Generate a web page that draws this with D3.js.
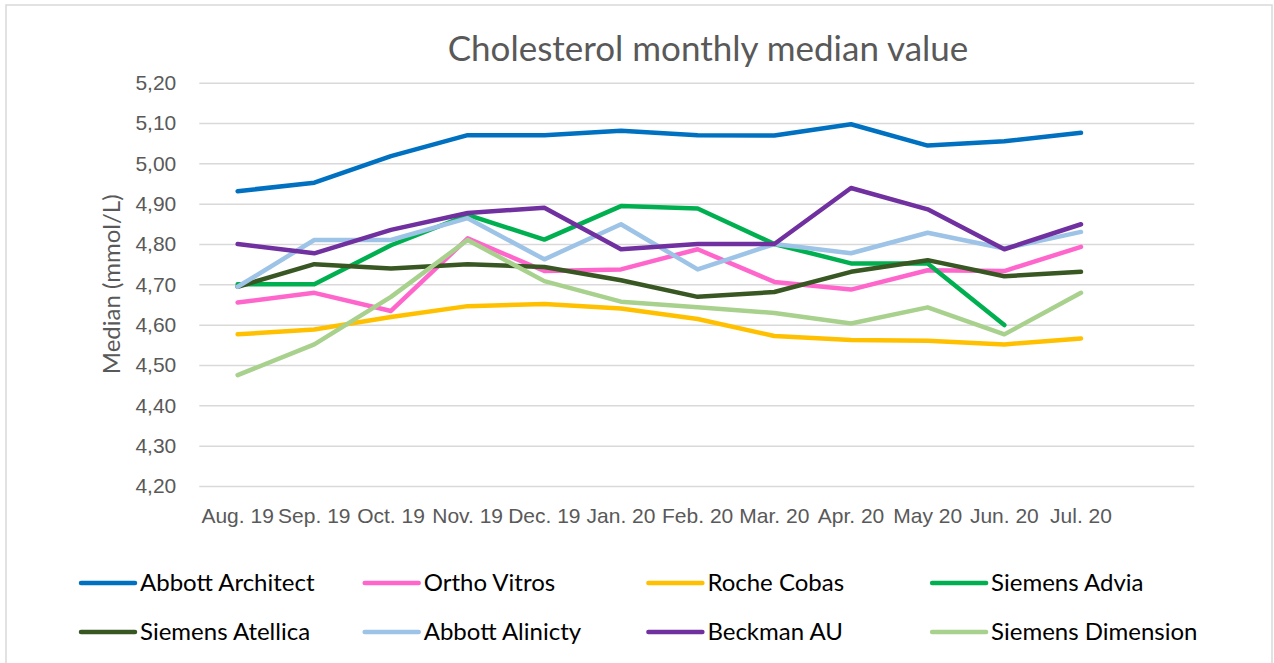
<!DOCTYPE html>
<html>
<head>
<meta charset="utf-8">
<script src="https://cdn.jsdelivr.net/npm/d3@7"></script>
<style>
  body { margin: 0; background: #fff; }
  svg { display: block; font-family: Lato, "Open Sans", sans-serif; }
  .grid line { stroke: #d9d9d9; stroke-width: 1.5; }
  .grid .domain { display: none; }
  .axis text { fill: #595959; }
  .axis .domain, .axis line { display: none; }
</style>
</head>
<body>
<div id="chart"></div>
<script>
var months = ["Aug. 19", "Sep. 19", "Oct. 19", "Nov. 19", "Dec. 19", "Jan. 20", "Feb. 20", "Mar. 20", "Apr. 20", "May 20", "Jun. 20", "Jul. 20"]
var yTicks = [4.2, 4.3, 4.4, 4.5, 4.6, 4.7, 4.8, 4.9, 5.0, 5.1, 5.2]

var abbottArchitect = [4.931, 4.952, 5.018, 5.070, 5.070, 5.081, 5.070, 5.069, 5.097, 5.044, 5.055, 5.076]
var orthoVitros     = [4.655, 4.679, 4.634, 4.814, 4.733, 4.737, 4.787, 4.706, 4.687, 4.735, 4.733, 4.793]
var rocheCobas      = [4.576, 4.588, 4.619, 4.646, 4.651, 4.640, 4.614, 4.572, 4.562, 4.560, 4.551, 4.566]
var siemensAdvia    = [4.700, 4.700, 4.797, 4.872, 4.811, 4.894, 4.888, 4.800, 4.752, 4.752, 4.599, null]
var siemensAtellica = [4.694, 4.750, 4.739, 4.750, 4.743, 4.710, 4.669, 4.681, 4.731, 4.760, 4.720, 4.731]
var abbottAlinicty  = [4.694, 4.810, 4.810, 4.864, 4.762, 4.849, 4.737, 4.800, 4.777, 4.828, 4.789, 4.830]
var beckmanAU       = [4.800, 4.777, 4.835, 4.877, 4.890, 4.787, 4.800, 4.800, 4.939, 4.886, 4.787, 4.849]
var siemensDimension= [4.475, 4.551, 4.669, 4.810, 4.708, 4.657, 4.643, 4.629, 4.603, 4.643, 4.576, 4.679]

var seriesNames  = ["Abbott Architect", "Ortho Vitros", "Roche Cobas", "Siemens Advia", "Siemens Atellica", "Abbott Alinicty", "Beckman AU", "Siemens Dimension"]
var seriesValues = [abbottArchitect, orthoVitros, rocheCobas, siemensAdvia, siemensAtellica, abbottAlinicty, beckmanAU, siemensDimension]
var seriesColors = ["#0070C0", "#FF66CC", "#FFC000", "#00B050", "#385723", "#9DC3E6", "#7030A0", "#A9D18E"]

var series = seriesNames.map(function(n, i){
  return {name: n, color: seriesColors[i], values: seriesValues[i].map(function(v, j){ return {month: months[j], value: v} })}
})

var W = 1274, H = 663
var plot = {left: 199.3, right: 1194.3, top: 82.7, bottom: 486}
var step = 76.67

var svg = d3.select('#chart').append('svg').attr('width', W).attr('height', H)

svg.append('rect')
  .attr('x', 6).attr('y', 5).attr('width', 1266).attr('height', H)
  .attr('fill', '#fff').attr('stroke', '#d9d9d9').attr('stroke-width', 1.5)

var x = d3.scaleBand().domain(months).range([plot.left, plot.left + step * months.length]).padding(0)
var y = d3.scaleLinear().domain([4.2, 5.2]).range([plot.bottom, plot.top])

// gridlines
svg.append('g')
  .attr('class', 'grid')
  .attr('transform', 'translate(' + plot.left + ',0)')
  .call(d3.axisLeft(y).tickValues(yTicks).tickSize(-(plot.right - plot.left)).tickFormat(''))

// y axis labels
var fmt = function(d){ return d3.format('.2f')(d).replace('.', ',') }
svg.append('g')
  .attr('class', 'axis')
  .attr('transform', 'translate(' + (plot.left - 23) + ',0)')
  .call(d3.axisLeft(y).tickValues(yTicks).tickSize(0).tickPadding(0).tickFormat(fmt))
  .selectAll('text').style('font-size', '21px')

// x axis labels
svg.append('g')
  .attr('class', 'axis')
  .attr('transform', 'translate(0,' + (plot.bottom + 22) + ')')
  .call(d3.axisBottom(x).tickSize(0).tickPadding(0))
  .selectAll('text').style('font-size', '21px')

svg.append('text')
  .attr('x', 708).attr('y', 61)
  .attr('text-anchor', 'middle')
  .attr('fill', '#595959')
  .style('font-size', '35px')
  .text('Cholesterol monthly median value')

svg.append('text')
  .attr('transform', 'translate(120,' + ((plot.top + plot.bottom) / 2) + ') rotate(-90)')
  .attr('text-anchor', 'middle')
  .attr('fill', '#595959')
  .style('font-size', '24px')
  .text('Median (mmol/L)')

var line = d3.line()
  .defined(function(d){ return d.value != null })
  .x(function(d){ return x(d.month) + x.bandwidth() / 2 })
  .y(function(d){ return y(d.value) })

svg.append('g').selectAll('path')
  .data(series)
  .enter().append('path')
  .attr('d', function(d){ return line(d.values) })
  .attr('fill', 'none')
  .attr('stroke', function(d){ return d.color })
  .attr('stroke-width', 4.5)
  .attr('stroke-linejoin', 'round')
  .attr('stroke-linecap', 'round')

// legend, 4 per row
var legend = svg.append('g').selectAll('g')
  .data(series)
  .enter().append('g')
  .attr('transform', function(d, i){ return 'translate(' + (81 + (i % 4) * 283.7) + ',' + (583 + Math.floor(i / 4) * 49) + ')' })

legend.append('line')
  .attr('x1', 0).attr('x2', 54)
  .attr('stroke', function(d){ return d.color })
  .attr('stroke-width', 4.5)
  .attr('stroke-linecap', 'round')

legend.append('text')
  .attr('x', 59).attr('dy', '0.35em')
  .attr('fill', '#000')
  .style('font-size', '24px')
  .text(function(d){ return d.name })
</script>
</body>
</html>
